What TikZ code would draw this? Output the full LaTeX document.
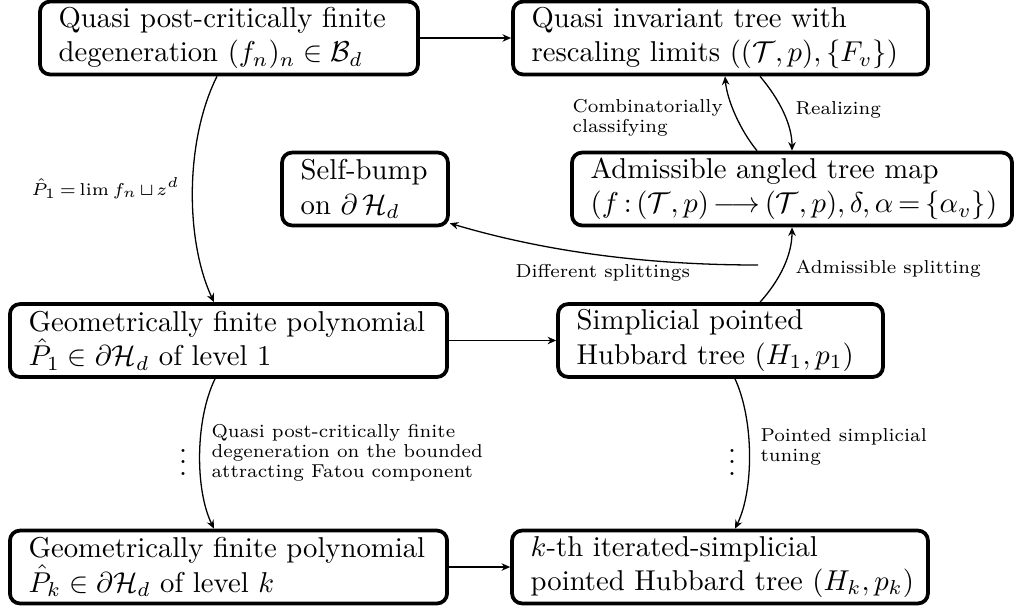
\documentclass[tikz,border=0pt]{standalone}
\usetikzlibrary{arrows.meta}
\begin{document}
\begin{tikzpicture}[x=0.3484pt,y=-0.3484pt,
  box/.style={draw, line width=1.3pt, rounded corners=3.5pt, align=left,
    inner xsep=6.5pt, inner ysep=1pt, minimum height=25.4pt},
  arr/.style={-{Stealth[length=3pt,width=2.6pt]}, line width=0.45pt},
  lab/.style={font=\fontsize{6.5}{7}\selectfont, inner sep=0pt, align=left}]
\useasboundingbox (0,0) rectangle (1014,608);

% boxes
\node[box, text width=118.7pt] (A) at (229,38)
  {\mbox{Quasi post-critically finite}\\ \mbox{degeneration $(f_n)_n\in\mathcal{B}_d$}};
\node[box, text width=131.6pt] (B) at (720.5,38)
  {\mbox{Quasi invariant tree with}\\ \mbox{rescaling limits $((\mathcal{T},p),\{F_v\})$}};
\node[box, text width=44.8pt] (C) at (365,189)
  {\mbox{Self-bump}\\ \mbox{on $\partial\,\mathcal{H}_d$}};
\node[box, text width=140.3pt] (D) at (792,189)
  {\mbox{Admissible angled tree map}\\ \mbox{\thickmuskip=3mu plus 2mu$(f:(\mathcal{T},p)\longrightarrow(\mathcal{T},p),\delta,\alpha=\{\alpha_v\})$}};
\node[box, text width=139.3pt] (E) at (228.5,340.5)
  {\mbox{Geometrically finite polynomial}\\ \mbox{$\hat{P}_1\in\partial\mathcal{H}_d$ of level 1}};
\node[box, text width=100.2pt] (F) at (720.5,340.5)
  {\mbox{Simplicial pointed}\\ \mbox{Hubbard tree $(H_1,p_1)$}};
\node[box, text width=139.3pt] (G) at (228.5,567)
  {\mbox{Geometrically finite polynomial}\\ \mbox{$\hat{P}_k\in\partial\mathcal{H}_d$ of level $k$}};
\node[box, text width=131.9pt] (H) at (720,567)
  {\mbox{$k$-th iterated-simplicial}\\ \mbox{pointed Hubbard tree $(H_k,p_k)$}};

\coordinate (ds) at (758,265);

% connectors
\draw[arr] (A.east) -- (B.west);
\draw[arr] (E.east) -- (F.west);
\draw[arr] (G.east) -- (H.west);
\draw[arr] (A.south -| 217,0) .. controls (185,140) and (185,240) .. (E.north -| 214,0);
\draw[arr] (B.south -| 760,0) .. controls (780,100) and (792,125) .. (D.north -| 792,0);
\draw[arr] (D.north -| 757,0) .. controls (740,130) and (727,100) .. (B.south -| 725,0);
\draw[arr] (F.north -| 760,0) .. controls (780,280) and (792,255) .. (D.south -| 792,0);
\draw[arr] (ds) .. controls (640,265) and (540,250) .. (C.-22);
\draw[arr] (E.south -| 215,0) .. controls (195,420) and (195,490) .. (G.north -| 214,0);
\draw[arr] (F.south -| 735,0) .. controls (754,420) and (754,490) .. (H.north -| 735,0);

% labels
\node[lab, anchor=base east] (l1) at (180,195)
  {\thickmuskip=3mu\medmuskip=2mu$\hat{P}_1=\lim f_n\sqcup z^d$};
\node[lab, anchor=west] (l2) at (572,117.5) {Combinatorially\\ classifying};
\node[lab, anchor=base west] (l3) at (795,114) {Realizing};
\node[lab, anchor=base west] (l4) at (515,277) {Different splittings};
\node[lab, anchor=base west] (l5) at (795,273) {Admissible splitting};
\node[lab, anchor=west] (l6) at (211,452.5) {Quasi post-critically finite\\ degeneration on the bounded\\ attracting Fatou component};
\node[lab, anchor=west] (l7) at (760,447) {Pointed simplicial\\ tuning};
\node[inner sep=0pt, anchor=base] (v1) at (183,475) {$\vdots$};
\node[inner sep=0pt, anchor=base] (v2) at (732,475) {$\vdots$};
\end{tikzpicture}
\end{document}
